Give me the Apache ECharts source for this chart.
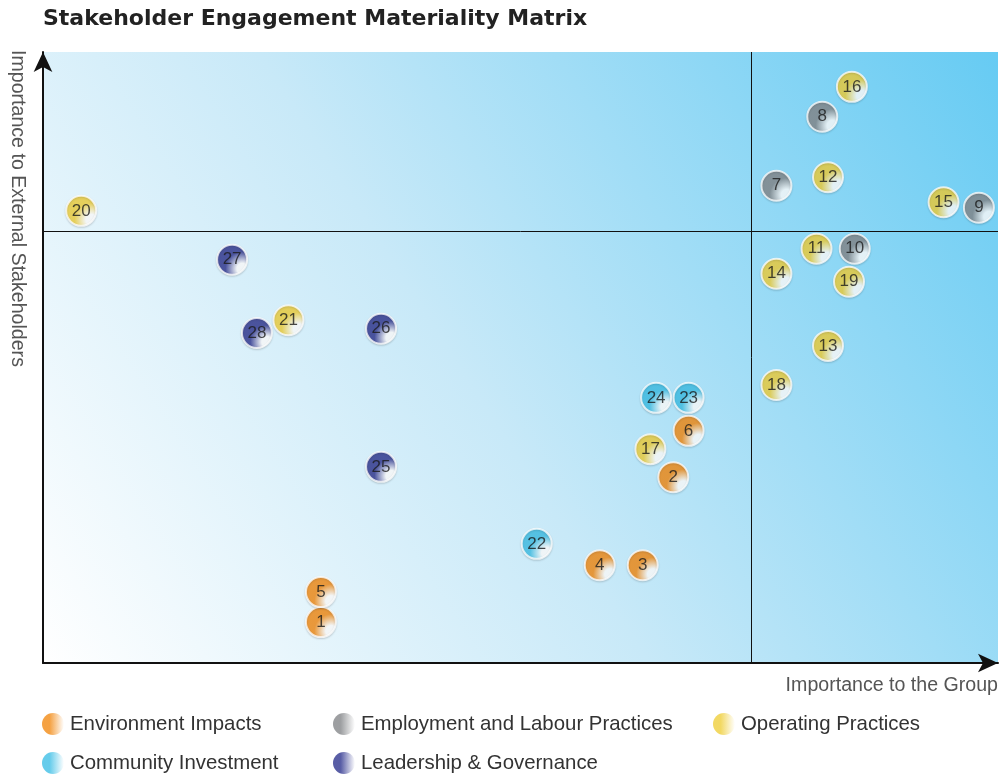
<!DOCTYPE html>
<html><head><meta charset="utf-8">
<script src="https://cdn.jsdelivr.net/npm/echarts@6/dist/echarts.min.js"></script>
<style>html,body{margin:0;padding:0;background:#fff}#c{width:1003px;height:777px}</style>
</head><body><div id="c"></div>
<script>
// Scores 0-100: [importance to group, importance to external stakeholders, issue number]
const categories = ['Environment Impacts','Employment and Labour Practices','Operating Practices','Community Investment','Leadership & Governance'];
const envImpacts = [[29.1,6.7,1],[66.0,30.4,2],[62.8,16.0,3],[58.3,16.0,4],[29.1,11.6,5],[67.6,38.0,6]];
const employment = [[76.8,78.1,7],[81.6,89.4,8],[98.0,74.5,9],[85.0,67.8,10]];
const operating = [[81.0,67.8,11],[82.2,79.5,12],[82.2,51.9,13],[76.8,63.7,14],[94.3,75.4,15],[84.7,94.3,16],[63.6,35.0,17],[76.8,45.5,18],[84.4,62.4,19],[4.0,74.0,20],[25.7,56.1,21]];
const community = [[51.7,19.5,22],[67.6,43.4,23],[64.2,43.4,24]];
const leadership = [[35.4,32.1,25],[35.4,54.7,26],[19.8,66.0,27],[22.4,54.0,28]];
const thresholdX = 74.2;
const thresholdY = 70.7;

const baseColors = ['#f28a14','#85878a','#efcf3c','#3fbfe6','#2f358f'];
const seriesData = [envImpacts, employment, operating, community, leadership];

function grad(c){
  return {type:'radial',x:0.82,y:0.78,r:0.85,colorStops:[
    {offset:0,color:'#ffffff'},{offset:0.2,color:'#ffffff'},{offset:0.62,color:c},{offset:1,color:c}]};
}
function legGrad(c){
  return {type:'linear',x:0,y:0,x2:1,y2:0,colorStops:[
    {offset:0,color:c},{offset:0.35,color:c},{offset:1,color:'#ffffff'}]};
}

const series = seriesData.map((d,i)=>({
  name: categories[i],
  type:'scatter',
  symbolSize: 30,
  z: 5,
  data: d,
  itemStyle:{color:grad(baseColors[i]), borderColor:'rgba(255,255,255,0.95)', borderWidth:2,
    shadowColor:'rgba(0,0,0,0.18)', shadowBlur:2, shadowOffsetY:1},
  label:{show:true, position:'inside', formatter:p=>p.value[2], color:'#1a1a1a',
    fontSize:17, fontFamily:'Liberation Sans'},
  emphasis:{disabled:true}
}));
series[0].markLine = {
  silent:true, symbol:'none', z:2,
  lineStyle:{color:'#111', width:1, type:'solid'},
  label:{show:false},
  data:[{xAxis:thresholdX},{yAxis:thresholdY}]
};

const legendPos = [[42,713],[333,713],[713,713],[42,752],[333,752]];
const legends = categories.map((n,i)=>({
  data:[{name:n, itemStyle:{color:legGrad(baseColors[i]), borderWidth:0, shadowBlur:0}}],
  left:legendPos[i][0], top:legendPos[i][1], padding:0,
  itemWidth:22, itemHeight:22, itemGap:6,
  icon:'circle', selectedMode:false,
  textStyle:{fontSize:20.4, color:'#333', fontFamily:'Liberation Sans', padding:[0,0,0,1]}
}));

const chart = echarts.init(document.getElementById('c'));
chart.setOption({
  animation:false,
  backgroundColor:'#fff',
  title:{text:'Stakeholder Engagement Materiality Matrix', left:43, top:8, padding:0,
    textStyle:{fontSize:22, fontWeight:'bold', color:'#222', fontFamily:'DejaVu Sans'}},
  legend: legends,
  grid:{left:43, right:5, top:52, bottom:114, show:true, borderWidth:0,
    backgroundColor:{type:'linear',x:0,y:1,x2:1,y2:0,colorStops:[
      {offset:0,color:'#ffffff'},{offset:0.45,color:'#c8e9f8'},{offset:1,color:'#66cbf3'}]}},
  xAxis:{type:'value', min:0, max:100, splitLine:{show:false}, axisTick:{show:false}, axisLabel:{show:false},
    axisLine:{show:true, symbol:['none','arrow'], symbolSize:[14,20], lineStyle:{color:'#111', width:2}}},
  yAxis:{type:'value', min:0, max:100, splitLine:{show:false}, axisTick:{show:false}, axisLabel:{show:false},
    axisLine:{show:true, symbol:['none','arrow'], symbolSize:[14,20], lineStyle:{color:'#111', width:2}}},
  graphic:[
    {type:'text', x:998, y:676, style:{text:'Importance to the Group', textAlign:'right', fontSize:19.6, fill:'#555', fontFamily:'Liberation Sans'}},
    {type:'text', x:17, y:50, rotation:-Math.PI/2, style:{text:'Importance to External Stakeholders', textAlign:'left', textVerticalAlign:'middle', fontSize:19.6, fill:'#555', fontFamily:'Liberation Sans'}}
  ],
  series: series
});
</script></body></html>
